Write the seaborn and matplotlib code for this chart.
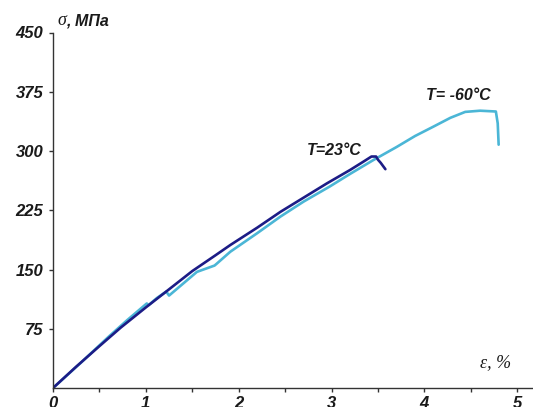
import matplotlib
matplotlib.use("Agg")
import matplotlib.pyplot as plt
from matplotlib.ticker import MultipleLocator
import seaborn as sns
import pandas as pd

# strain (%) / stress (MPa)
eps_23 = [0, 0.25, 0.5, 0.73, 1.0, 1.24, 1.5, 1.75, 1.91, 2.2, 2.45, 2.7, 2.95,
          3.2, 3.35, 3.43, 3.48, 3.50, 3.53, 3.58]
sig_23 = [0, 27, 53, 76.5, 102, 124, 148, 168, 181, 203, 223, 241, 259,
          276, 287, 293, 293, 289, 285, 277]

eps_60 = [0, 0.3, 0.6, 0.8, 1.01, 1.03, 1.12, 1.22, 1.25, 1.55, 1.74, 1.76,
          1.91, 2.2, 2.45, 2.7, 2.98, 3.2, 3.45, 3.7, 3.9, 4.1, 4.28, 4.44,
          4.6, 4.77, 4.79, 4.80]
sig_60 = [0, 32, 65, 86, 107, 105, 114, 122, 117, 147, 155, 157,
          172.5, 196, 217, 236, 255, 271, 288.5, 305, 319, 331, 342, 349.5,
          351, 350, 335, 308]

x_ticks = [0, 1, 2, 3, 4, 5]
y_ticks = [75, 150, 225, 300, 375, 450]

NAVY = "#1c1c86"
LIGHT = "#4bb6d6"

sns.set_style("white")
plt.rcParams["font.family"] = ["Liberation Sans", "DejaVu Sans"]

fig = plt.figure(figsize=(5.33, 4.07), dpi=100)
ax = fig.add_axes([53 / 533, 19 / 407, 480 / 533, 355.5 / 407])

df23 = pd.DataFrame({"eps": eps_23, "sig": sig_23})
df60 = pd.DataFrame({"eps": eps_60, "sig": sig_60})
sns.lineplot(data=df60, x="eps", y="sig", sort=False, color=LIGHT, lw=1.9, ax=ax)
sns.lineplot(data=df23, x="eps", y="sig", sort=False, color=NAVY, lw=1.9, ax=ax)

ax.set_xlim(0, 5.17)
ax.set_ylim(0, 450)
ax.set_xticks(x_ticks)
ax.set_yticks(y_ticks)
ax.xaxis.set_minor_locator(MultipleLocator(0.5))
ax.set_xlabel("")
ax.set_ylabel("")

for s in ["top", "right"]:
    ax.spines[s].set_visible(False)
for s in ["left", "bottom"]:
    ax.spines[s].set_color("#333333")
    ax.spines[s].set_linewidth(1.0)

ax.tick_params(axis="both", which="both", direction="out", length=3,
               width=1, color="#333333", bottom=True, left=True)
ax.tick_params(axis="x", pad=3)
ax.tick_params(axis="y", pad=4)
for lab in ax.get_xticklabels() + ax.get_yticklabels():
    lab.set_fontsize(12)
    lab.set_fontweight("bold")
    lab.set_fontstyle("italic")
    lab.set_color("#1a1a1a")

# curve labels
ax.text(2.73, 295, "T=23°C", fontsize=11.5, fontweight="bold",
        fontstyle="italic", va="baseline", color="#1a1a1a")
ax.text(4.02, 365, "T= -60°C", fontsize=11.5, fontweight="bold",
        fontstyle="italic", va="baseline", color="#1a1a1a")

# axis titles
ax.text(4.6, 27, "ε, %", fontsize=13, fontstyle="italic",
        family="Liberation Serif", va="baseline", color="#1a1a1a")
fig.text(57 / 533, 1 - 25 / 407, "σ", fontsize=13, fontstyle="italic",
         family="Liberation Serif", va="baseline", color="#1a1a1a")
fig.text(66 / 533, 1 - 25 / 407, ", МПа", fontsize=11.5, fontweight="bold",
         fontstyle="italic", va="baseline", color="#1a1a1a")

fig.savefig("out.png", dpi=100)
